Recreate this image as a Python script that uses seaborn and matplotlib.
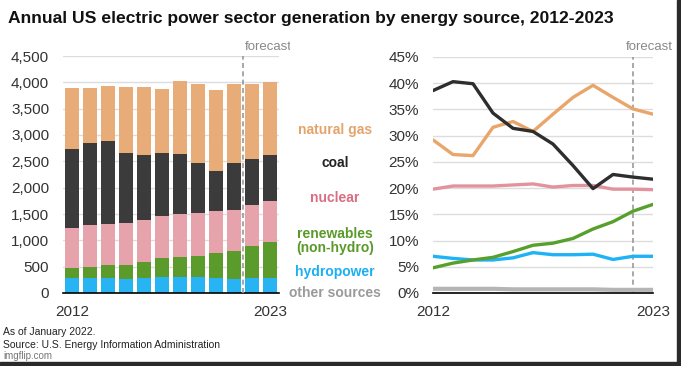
import numpy as np
import pandas as pd
import matplotlib
matplotlib.use("Agg")
import matplotlib.pyplot as plt
import seaborn as sns
from matplotlib.patches import Rectangle
from matplotlib.transforms import Bbox, TransformedBbox

# ---- data ----
years = [2012, 2013, 2014, 2015, 2016, 2017, 2018, 2019, 2020, 2021, 2022, 2023]
# generation (billion kWh) by source (left panel, stacked)
hydro_gen = [284, 284, 278, 265, 278, 310, 303, 297, 291, 265, 291, 291]
renew_gen = [184, 215, 247, 266, 310, 347, 380, 411, 467, 531, 606, 676]
nuclear_gen = [764, 784, 790, 796, 796, 803, 809, 809, 790, 771, 778, 777]
coal_gen = [1498, 1574, 1567, 1340, 1232, 1194, 1143, 948, 765, 898, 878, 872]
gas_gen = [1157, 1043, 1055, 1251, 1302, 1220, 1385, 1504, 1542, 1498, 1410, 1391]
# shares (%) (right panel)
gas_share = [29.2, 26.4, 26.2, 31.6, 32.7, 30.8, 34.1, 37.3, 39.6, 37.3, 35.1, 34.1]
coal_share = [38.6, 40.3, 39.9, 34.3, 31.4, 30.8, 28.4, 24.3, 19.9, 22.6, 22.1, 21.7]
nuclear_share = [19.8, 20.4, 20.4, 20.4, 20.6, 20.8, 20.2, 20.5, 20.5, 19.8, 19.8, 19.7]
renew_share = [4.8, 5.7, 6.3, 6.8, 7.9, 9.1, 9.5, 10.4, 12.2, 13.6, 15.6, 16.9]
hydro_share = [7.0, 6.6, 6.3, 6.3, 6.7, 7.7, 7.3, 7.3, 7.4, 6.4, 7.0, 7.0]
other_share = [0.8, 0.8, 0.8, 0.8, 0.7, 0.7, 0.7, 0.7, 0.7, 0.6, 0.6, 0.6]
left_yticks = [0, 500, 1000, 1500, 2000, 2500, 3000, 3500, 4000, 4500]
right_yticks = [0, 5, 10, 15, 20, 25, 30, 35, 40, 45]
source_labels = ["natural gas", "coal", "nuclear", "renewables\n(non-hydro)", "hydropower", "other sources"]

# ---- style ----
sns.set_theme(style="white")
plt.rcParams["font.family"] = ["Liberation Sans", "DejaVu Sans"]

W, H = 681, 366
fig = plt.figure(figsize=(W / 100, H / 100), dpi=100)
fig.patch.set_facecolor("white")

def fx(x):
    return x / W

def fy(y):
    return 1 - y / H

TICK = "#333333"
GRID = "#DDDDDD"

bar_cols = {"gas": "#E8AC78", "coal": "#3B3B3B", "nuclear": "#E6A3AC",
            "renew": "#5A9B2C", "hydro": "#28B4F2"}
line_cols = {"gas": "#E8A66A", "coal": "#2E2E2E", "nuclear": "#E3939E",
             "renew": "#57A02B", "hydro": "#1FB2F6", "other": "#B5B5B5"}

# ---- left panel: stacked bars ----
axL = fig.add_axes([fx(63), fy(293), fx(279) - fx(63), (293 - 56) / H])
stack_order = [hydro_gen, renew_gen, nuclear_gen, coal_gen, gas_gen]
cum = np.cumsum(np.array(stack_order), axis=0)  # rows: hydro, +renew, +nuclear, +coal, +gas
cum_map = {"hydro": cum[0], "renew": cum[1], "nuclear": cum[2], "coal": cum[3], "gas": cum[4]}
xcats = [str(y) for y in years]
for key in ["gas", "coal", "nuclear", "renew", "hydro"]:
    df = pd.DataFrame({"year": xcats, "val": cum_map[key]})
    sns.barplot(data=df, x="year", y="val", color=bar_cols[key], width=0.78,
                saturation=1, ax=axL, zorder=2, linewidth=0)
axL.set_xlim(-0.5, 11.5)
axL.set_ylim(0, 4500)
axL.set_yticks(left_yticks)
axL.set_yticklabels([f"{v:,}" for v in left_yticks])
axL.yaxis.grid(True, color=GRID, linewidth=1.0, zorder=0)
axL.set_axisbelow(True)
axL.set_xticks([0, 11])
axL.set_xticklabels(["2012", "2023"])
axL.set_xlabel("")
axL.set_ylabel("")
for s in ["top", "right", "left"]:
    axL.spines[s].set_visible(False)
axL.spines["bottom"].set_color("black")
axL.spines["bottom"].set_linewidth(1.2)
axL.tick_params(axis="y", length=0, labelsize=11, labelcolor=TICK, pad=10)
axL.tick_params(axis="x", length=0, labelsize=11, labelcolor=TICK, pad=9)
axL.axvline(9.5, color="#999999", linestyle=(0, (3, 2)), linewidth=1.2, zorder=3, ymax=1.0)
tf = fig.text(fx(245), fy(47), "forecast", fontsize=9.5, color="#888888", ha="left", va="center")
tf.set_clip_on(True)
tf.set_clip_box(TransformedBbox(Bbox([[0, 0], [fx(290), 1]]), fig.transFigure))

# ---- right panel: lines ----
axR = fig.add_axes([fx(433), fy(293), fx(653) - fx(433), (293 - 57) / H])
ldf = pd.DataFrame({
    "year": years * 6,
    "share": other_share + hydro_share + renew_share + nuclear_share + gas_share + coal_share,
    "source": (["other"] * 12 + ["hydro"] * 12 + ["renew"] * 12 + ["nuclear"] * 12
               + ["gas"] * 12 + ["coal"] * 12),
})
sns.lineplot(data=ldf, x="year", y="share", hue="source", palette=line_cols,
             linewidth=2.4, ax=axR, legend=False, zorder=3)
axR.lines[0].set_linewidth(3.0)
axR.set_xlim(2012, 2023)
axR.set_ylim(0, 45)
axR.set_yticks(right_yticks)
axR.set_yticklabels([f"{v}%" for v in right_yticks])
axR.yaxis.grid(True, color=GRID, linewidth=1.0, zorder=0)
axR.set_axisbelow(True)
axR.set_xticks([2012, 2023])
axR.set_xticklabels(["2012", "2023"])
axR.set_xlabel("")
axR.set_ylabel("")
for s in ["top", "right", "left"]:
    axR.spines[s].set_visible(False)
axR.spines["bottom"].set_color("black")
axR.spines["bottom"].set_linewidth(1.2)
axR.tick_params(axis="y", length=0, labelsize=11, labelcolor=TICK, pad=10)
axR.tick_params(axis="x", length=4, width=1, color="black", direction="out",
                labelsize=11, labelcolor=TICK, pad=5)
axR.axvline(2022, color="#999999", linestyle=(0, (3, 2)), linewidth=1.2, zorder=2)
fig.text(fx(626), fy(47), "forecast", fontsize=9.5, color="#888888", ha="left", va="center")

# ---- middle labels ----
lab_cols = ["#E3A46C", "#222222", "#D96D82", "#5A9A2A", "#1BB0F2", "#9A9A9A"]
lab_y = [130, 163, 198, 241, 272, 293]
for t, c, y in zip(source_labels, lab_cols, lab_y):
    fig.text(fx(335), fy(y), t, color=c, fontsize=10, fontweight="bold",
             ha="center", va="center", linespacing=1.05)

# ---- title & footer ----
fig.text(fx(8), fy(19), "Annual US electric power sector generation by energy source, 2012-2023",
         fontsize=12.6, fontweight="bold", color="#111111", ha="left", va="center")
fig.text(fx(3), fy(332), "As of January 2022.", fontsize=7.5, color="#222222", ha="left", va="center")
fig.text(fx(3), fy(345), "Source: U.S. Energy Information Administration", fontsize=7.5,
         color="#222222", ha="left", va="center")
fig.text(fx(3), fy(356), "imgflip.com", fontsize=7, color="#777777", ha="left", va="center")

# screenshot frame edges
fig.patches.append(Rectangle((fx(677), 0), 1 - fx(677), 1, transform=fig.transFigure,
                             color="#2a2a2a", zorder=10))
fig.patches.append(Rectangle((0, 0), 1, fy(362), transform=fig.transFigure,
                             color="#2a2a2a", zorder=10))

fig.savefig("out.png", dpi=100, facecolor="white")
